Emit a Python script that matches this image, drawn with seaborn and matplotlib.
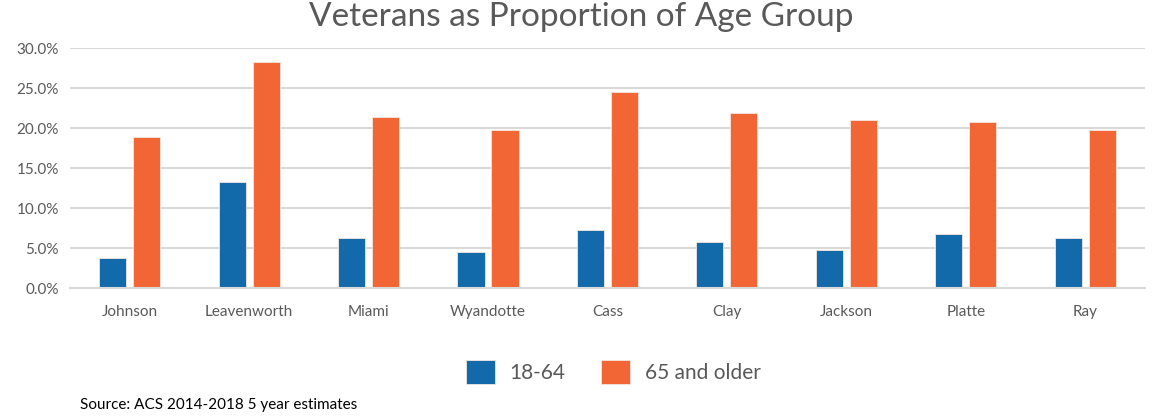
import pandas as pd
import matplotlib
matplotlib.use("Agg")
import matplotlib.pyplot as plt
from matplotlib.ticker import PercentFormatter
import seaborn as sns

counties = ["Johnson", "Leavenworth", "Miami", "Wyandotte", "Cass",
            "Clay", "Jackson", "Platte", "Ray"]
age_18_64 = [3.7, 13.3, 6.2, 4.5, 7.2, 5.8, 4.8, 6.75, 6.3]
age_65_up = [18.9, 28.2, 21.4, 19.7, 24.5, 21.9, 21.0, 20.8, 19.7]
groups = ["18-64", "65 and older"]
colors = ["#136AAA", "#F26535"]

df = pd.DataFrame({
    "county": counties * 2,
    "group": [groups[0]] * len(counties) + [groups[1]] * len(counties),
    "value": age_18_64 + age_65_up,
})

sns.set_theme(style="white")
plt.rcParams["font.family"] = ["Lato", "DejaVu Sans"]
txt = "#595959"

fig = plt.figure(figsize=(11.57, 4.19), dpi=100)
ax = fig.add_axes([0.0605, 0.3126, 0.929, 0.5728])

sns.barplot(data=df, x="county", y="value", hue="group", palette=colors,
            saturation=1, width=0.57, gap=0.2, edgecolor="#F3E6E0",
            linewidth=0.6, ax=ax, legend=True)

ax.set_ylim(0, 30)
ax.set_yticks(range(0, 31, 5))
ax.yaxis.set_major_formatter(PercentFormatter(decimals=1))
ax.yaxis.grid(True, color="#D9D9D9", linewidth=1.5)
ax.set_axisbelow(True)
for s in ["top", "right", "left"]:
    ax.spines[s].set_visible(False)
ax.spines["bottom"].set_color("#D9D9D9")
ax.spines["bottom"].set_linewidth(1.5)
ax.tick_params(axis="y", labelsize=11, colors=txt, length=0, pad=8)
ax.tick_params(axis="x", labelsize=11, colors=txt, length=0, pad=12)
ax.set_xlabel("")
ax.set_ylabel("")
ax.set_xlim(-0.5, len(counties) - 0.5)

fig.suptitle("Veterans as Proportion of Age Group", x=0.502, y=0.995,
             fontsize=24, color=txt, va="top")

handles, labels = ax.get_legend_handles_labels()
ax.get_legend().remove()
fig.legend(handles, labels, loc="center", bbox_to_anchor=(0.53, 0.112),
           ncol=2, frameon=False, fontsize=15, labelcolor=txt,
           handlelength=1.4, handleheight=1.4, handletextpad=0.7,
           columnspacing=1.7)

fig.text(0.069, 0.033, "Source: ACS 2014-2018 5 year estimates",
         fontsize=11, color="black", va="center")

fig.savefig("out.png", dpi=100)
